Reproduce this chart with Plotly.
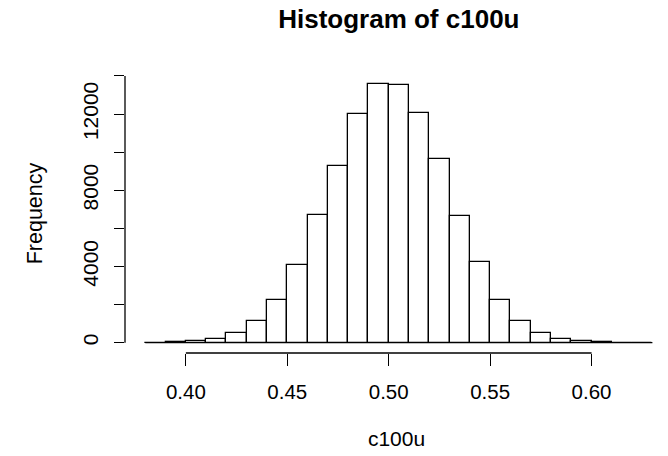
import plotly.graph_objects as go

# Histogram of c100u: bin edges and counts per bin
breaks = [0.38, 0.39, 0.40, 0.41, 0.42, 0.43, 0.44, 0.45, 0.46, 0.47, 0.48, 0.49, 0.50,
          0.51, 0.52, 0.53, 0.54, 0.55, 0.56, 0.57, 0.58, 0.59, 0.60, 0.61, 0.62, 0.63]
counts = [3, 15, 75, 180, 500, 1140, 2230, 4070, 6680, 9280, 11980, 13560, 13500,
          12030, 9620, 6650, 4260, 2260, 1150, 490, 170, 70, 25, 8, 2]

x_ticks = [0.40, 0.45, 0.50, 0.55, 0.60]
x_tick_labels = ["0.40", "0.45", "0.50", "0.55", "0.60"]
y_ticks = [0, 2000, 4000, 6000, 8000, 10000, 12000, 14000]
y_tick_labels = ["0", "", "4000", "", "8000", "", "12000", ""]

title_text = "Histogram of c100u"
x_title = "c100u"
y_title = "Frequency"

FONT = "Liberation Sans, Arial, Helvetica, sans-serif"
LW = 1.3

centers = [(a + b) / 2 for a, b in zip(breaks[:-1], breaks[1:])]
widths = [b - a for a, b in zip(breaks[:-1], breaks[1:])]

fig = go.Figure()
fig.add_trace(go.Bar(
    x=centers, y=counts, width=widths,
    marker=dict(color="white", line=dict(color="black", width=LW)),
    hoverinfo="x+y", showlegend=False,
))

W, H = 668, 456
ml, mr, mt, mb = 125, 0, 73.6, 103.3
px_per_unit = 2028.5
# x range padded by 4% of the data span on the left, cut at the page edge on the right
x0 = breaks[0] - 0.04 * (breaks[-1] - breaks[0])
x1 = x0 + (W - ml - mr) / px_per_unit
ymax_data = max(counts)
ext = 0.04 * ymax_data
y0, y1 = -ext, ymax_data + ext
# centre of the full (unclipped) plotting region
region_right = ml + (breaks[-1] + 0.04 * (breaks[-1] - breaks[0]) - x0) * px_per_unit
title_cx = (ml + region_right) / 2

fig.update_layout(
    width=W, height=H,
    margin=dict(l=ml, r=mr, t=mt, b=mb, pad=0),
    paper_bgcolor="white", plot_bgcolor="white",
    font=dict(family=FONT, color="black", size=20),
    bargap=0,
    xaxis=dict(
        range=[x0, x1], showgrid=False, zeroline=False, showline=False,
        tickmode="array", tickvals=x_ticks, ticktext=x_tick_labels,
        ticks="outside", ticklen=12, tickwidth=LW, tickcolor="black",
        tickfont=dict(size=20.5), ticklabelstandoff=8,
        title=dict(text=x_title, font=dict(size=21), standoff=29),
    ),
    yaxis=dict(
        range=[y0, y1], showgrid=False, zeroline=False, showline=False,
        tickmode="array", tickvals=y_ticks, ticktext=y_tick_labels,
        ticks="outside", ticklen=10, tickwidth=LW, tickcolor="black",
        tickangle=-90, tickfont=dict(size=21), ticklabelstandoff=8,
        title=dict(text=y_title, font=dict(size=21.5), standoff=30),
    ),
    title=dict(
        text="<b>" + title_text + "</b>", font=dict(size=26),
        x=title_cx / W, xanchor="center", y=1 - 19 / H, yanchor="middle",
        xref="container", yref="container",
    ),
    shapes=[
        # bar bottoms along the full bin range (near-empty bins show as a flat line)
        dict(type="line", xref="x", yref="y", x0=breaks[0], x1=breaks[-1], y0=0, y1=0,
             line=dict(color="black", width=LW)),
        # detached axis segments spanning the tick range
        dict(type="line", xref="x", yref="paper", x0=x_ticks[0], x1=x_ticks[-1], y0=0, y1=0,
             line=dict(color="black", width=LW)),
        dict(type="line", xref="paper", yref="y", x0=0, x1=0, y0=y_ticks[0], y1=y_ticks[-1],
             line=dict(color="black", width=LW)),
    ],
)

fig.write_html("out.html")
